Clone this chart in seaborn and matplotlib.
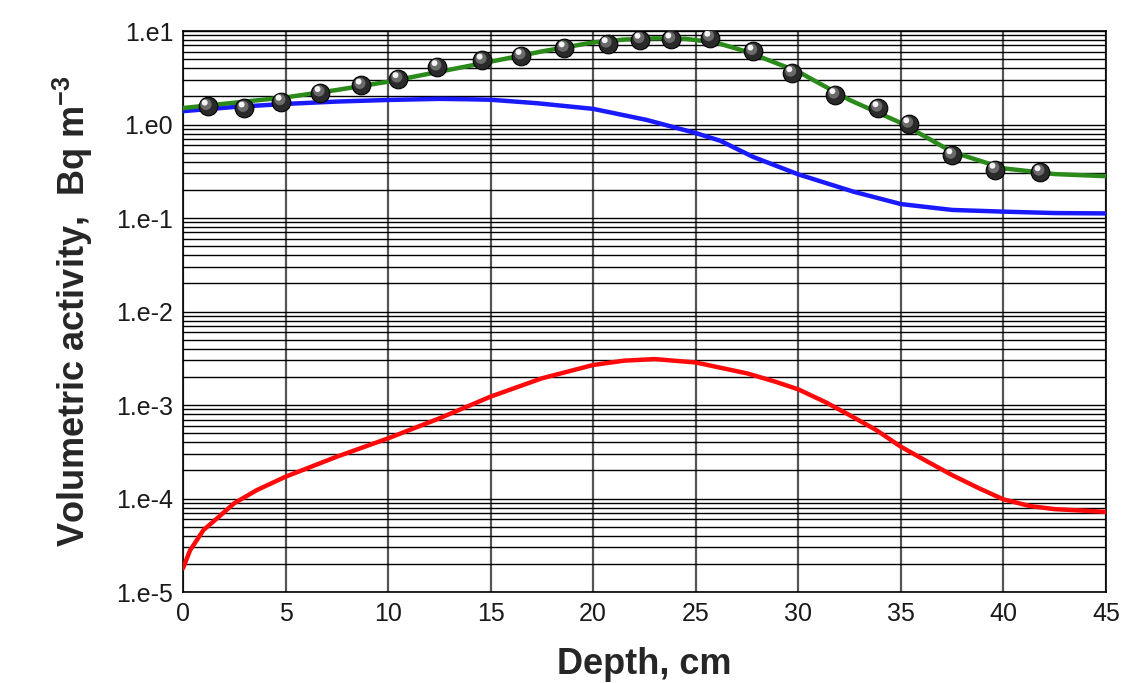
import numpy as np
import pandas as pd
import matplotlib
matplotlib.use("Agg")
import matplotlib.pyplot as plt
import matplotlib.transforms as mtransforms
from matplotlib.ticker import LogLocator, FixedLocator, FuncFormatter, NullFormatter
import seaborn as sns

# ---------------- data ----------------
green_depth = [0, 2.5, 5, 7.5, 10, 12.5, 15, 17.5, 20, 21.5, 23, 24.5, 26, 27.5, 30, 32.5, 35, 37.5, 40, 42.5, 45]
green_vals = [1.50, 1.71, 1.95, 2.34, 2.87, 3.67, 4.70, 6.05, 7.55, 8.1, 8.35, 8.25, 7.5, 6.0, 3.67, 1.83, 1.04, 0.51, 0.34, 0.295, 0.28]

blue_depth = [0, 2.5, 5, 7.5, 10, 12.5, 14, 15, 17.25, 20, 22.6, 25, 26.2, 27.8, 30, 32.7, 35, 37.5, 40, 42.5, 45]
blue_vals = [1.39, 1.54, 1.66, 1.76, 1.83, 1.88, 1.86, 1.84, 1.69, 1.47, 1.12, 0.81, 0.67, 0.45, 0.293, 0.191, 0.141, 0.122, 0.117, 0.113, 0.112]

red_depth = [0, 0.35, 1, 1.65, 2.5, 3.6, 5, 7.5, 10, 12.5, 15, 17.5, 20, 21.5, 23, 25, 27.5, 28.9, 30, 31.3,
             32.5, 33.8, 35, 36.3, 37.5, 38.8, 40, 41.3, 42.5, 45]
red_vals = [1.79e-5, 2.8e-5, 4.6e-5, 6.1e-5, 8.9e-5, 1.23e-4, 1.71e-4, 2.8e-4, 4.4e-4, 7.2e-4, 1.23e-3,
            1.93e-3, 2.68e-3, 2.98e-3, 3.1e-3, 2.85e-3, 2.18e-3, 1.77e-3, 1.47e-3, 1.08e-3,
            7.8e-4, 5.4e-4, 3.58e-4, 2.48e-4, 1.78e-4, 1.29e-4, 9.8e-5, 8.3e-5, 7.7e-5, 7.2e-5]

dot_depth = [1.2, 3.0, 4.8, 6.7, 8.7, 10.5, 12.4, 14.6, 16.5, 18.6, 20.7, 22.3, 23.8, 25.7, 27.8, 29.7, 31.8, 33.9, 35.4, 37.5, 39.6, 41.8]
dot_vals = [1.56, 1.49, 1.76, 2.18, 2.62, 3.07, 4.13, 4.85, 5.43, 6.55, 7.26, 8.1, 8.15, 8.5, 6.05, 3.55, 2.07, 1.50, 1.01, 0.47, 0.33, 0.31]

x_ticks = [0, 5, 10, 15, 20, 25, 30, 35, 40, 45]
x_label = "Depth, cm"
y_label = "Volumetric activity,  Bq m$^{\\mathbf{-3}}$"

# ---------------- style ----------------
sns.set_style("white")
plt.rcParams["font.family"] = ["Liberation Sans", "DejaVu Sans"]
plt.rcParams["mathtext.fontset"] = "custom"
plt.rcParams["mathtext.rm"] = "Liberation Sans"
plt.rcParams["mathtext.bf"] = "Liberation Sans:bold"

fig = plt.figure(figsize=(11.21, 6.83), dpi=100)
ax = fig.add_axes([0.1632, 0.1332, 0.8234, 0.8214])

df_g = pd.DataFrame({"depth": green_depth, "val": green_vals})
df_b = pd.DataFrame({"depth": blue_depth, "val": blue_vals})
df_r = pd.DataFrame({"depth": red_depth, "val": red_vals})
df_d = pd.DataFrame({"depth": dot_depth, "val": dot_vals})

sns.lineplot(data=df_b, x="depth", y="val", ax=ax, color="#1a1aff", lw=3.2, zorder=4)
sns.lineplot(data=df_g, x="depth", y="val", ax=ax, color="#2a8a1a", lw=3.2, zorder=4)
sns.lineplot(data=df_r, x="depth", y="val", ax=ax, color="#ff0a0a", lw=3.2, zorder=4)

# glossy sphere markers: dark base + offset highlights
sns.scatterplot(data=df_d, x="depth", y="val", ax=ax, s=180, color="#2a2a2a",
                edgecolor="#000000", linewidth=0.8, zorder=5)
sns.scatterplot(data=df_d, x="depth", y="val", ax=ax, s=65, color="#6a6a6a",
                edgecolor="none", linewidth=0, zorder=6)
ax.collections[-1].set_offset_transform(
    ax.transData + mtransforms.ScaledTranslation(-0.015, 0.02, fig.dpi_scale_trans))
sns.scatterplot(data=df_d, x="depth", y="val", ax=ax, s=18, color="#f4f4f4",
                edgecolor="none", linewidth=0, zorder=7)
ax.collections[-1].set_offset_transform(
    ax.transData + mtransforms.ScaledTranslation(-0.028, 0.038, fig.dpi_scale_trans))

ax.set_yscale("log")
ax.set_xlim(0, 45)
ax.set_ylim(1e-5, 1e1)

ax.xaxis.set_major_locator(FixedLocator(x_ticks))
ax.yaxis.set_major_locator(LogLocator(base=10, numticks=20))
ax.yaxis.set_minor_locator(LogLocator(base=10, subs=np.arange(2, 10), numticks=20))
ax.yaxis.set_major_formatter(FuncFormatter(lambda v, p: "1.e%d" % int(round(np.log10(v)))))
ax.yaxis.set_minor_formatter(NullFormatter())

ax.grid(True, axis="y", which="both", color="#000000", lw=1.0, zorder=1)
ax.grid(True, axis="x", which="major", color="#555555", lw=1.6, zorder=1)
ax.set_axisbelow(True)

for s in ax.spines.values():
    s.set_color("#000000")
    s.set_linewidth(1.2)

ax.tick_params(axis="both", which="major", direction="out", length=5, width=1.0,
               color="#000000", labelsize=18, labelcolor="#1a1a1a", pad=2)
ax.tick_params(axis="y", which="minor", direction="out", length=3, width=0.8, color="#000000")
ax.tick_params(axis="x", which="minor", length=0)

ax.set_xlabel(x_label, fontsize=26, fontweight="bold", labelpad=15)
ax.set_ylabel(y_label, fontsize=26, fontweight="bold", labelpad=15)

fig.savefig("out.png", dpi=100)
